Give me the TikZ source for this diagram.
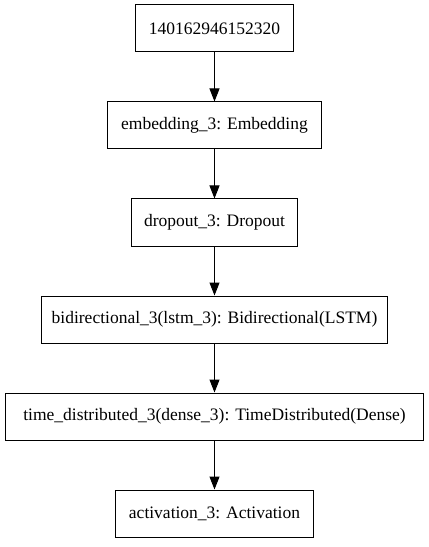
\documentclass[tikz,border=0pt]{standalone}
\usepackage{fontspec}
\setmainfont{Liberation Serif}
\usetikzlibrary{arrows.meta}
\begin{document}
\begin{tikzpicture}[x=1bp,y=-1bp,
  layer/.style={draw=black,line width=1bp,minimum height=47bp,inner sep=0pt,
    font=\fontsize{17.5bp}{20bp}\selectfont},
  flow/.style={draw=black,line width=1bp,-{Triangle[length=13bp,width=10bp]},shorten >=0pt}]
\useasboundingbox (0,0) rectangle (428,547);
\node[layer,minimum width=158bp] (n1) at (214.5,28.5) {140162946152320};
\node[layer,minimum width=214bp] (n2) at (214.5,125.5) {embedding\_3: Embedding};
\node[layer,minimum width=166bp] (n3) at (214.5,222.5) {dropout\_3: Dropout};
\node[layer,minimum width=346bp] (n4) at (214.5,319.5) {bidirectional\_3(lstm\_3): Bidirectional(LSTM)};
\node[layer,minimum width=418bp] (n5) at (214.5,416.5) {time\_distributed\_3(dense\_3): TimeDistributed(Dense)};
\node[layer,minimum width=198bp] (n6) at (214.5,513.5) {activation\_3: Activation};
\draw[flow] (n1) -- (n2);
\draw[flow] (n2) -- (n3);
\draw[flow] (n3) -- (n4);
\draw[flow] (n4) -- (n5);
\draw[flow] (n5) -- (n6);
\end{tikzpicture}
\end{document}
